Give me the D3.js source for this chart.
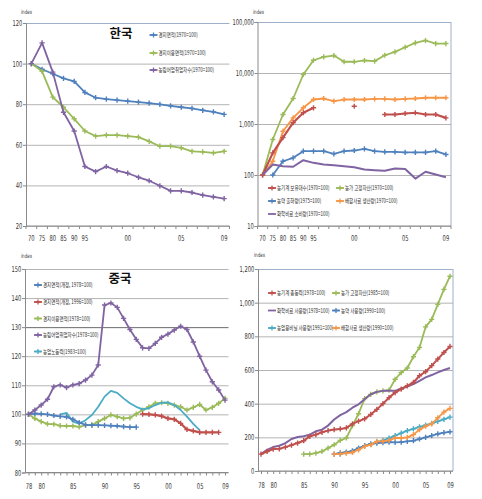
<!DOCTYPE html>
<html><head><meta charset="utf-8">
<script src="https://cdn.jsdelivr.net/npm/d3@7"></script>
<style>
html,body{margin:0;padding:0;background:#fff;}
svg{display:block;}
text{font-family:"Liberation Sans Narrow","DejaVu Sans Condensed","Liberation Sans",sans-serif;fill:#333;}
.kr{font-family:"Noto Sans CJK KR",sans-serif;}
</style></head><body>
<svg id="c" width="482" height="499"></svg>
<script>
// ---------- DATA ----------
// Korea (top panels): categories
const krCats = ["1970","1975","1980","1985","1990","1995","1997","1998","1999","2000","2001","2002","2003","2004","2005","2006","2007","2008","2009"];
const krTickCats = ["1970","1975","1980","1985","1990","1995","2000","2005","2009"];
const krTickText = ["70","75","80","85","90","95","00","05","09"];
// Panel 1
const krArea    = [100,97.2,95.0,92.7,91.2,85.8,83.2,82.5,82.0,81.5,81.0,80.5,79.9,79.2,78.5,77.9,77.0,76.2,75.0];
const krUsed    = [100,96.2,83.5,78.5,72.8,66.8,64.3,64.8,64.8,64.3,63.8,61.7,59.3,59.3,58.5,56.8,56.5,56.0,56.8];
const krWorkers = [100,110.2,95.8,76.0,66.8,49.3,46.8,49.3,47.3,46.0,44.0,42.3,39.8,37.3,37.3,36.5,35.2,34.3,33.5];
const krLegend1 = ["경지면적(1970=100)","경지이용면적(1970=100)","농림어업취업자수(1970=100)"];
const krYTicks1 = [20,40,60,80,100,120];
// Panel 2 (log scale)
const krMachines  = [100,272,540,1060,1660,2080,null,null,null,2230,null,null,1535,1535,1607,1660,1535,1535,1320];
const krAssets    = [100,497,1535,3160,9350,17800,20800,22000,16600,16600,17600,17100,22300,26000,32000,39000,43400,37800,37800];
const krPesticide = [null,100,186,217,293,293,293,260,293,302,326,293,285,285,277,277,277,293,253];
const krFeed      = [100,186,722,1320,2080,3020,3160,2800,3020,3020,3020,3100,3100,3020,3100,3160,3270,3270,3270];
const krFert      = [100,161,149,145,195,173,161,156,149,142,128,124,121,134,131,85,116,102,90];
const krLegend2 = ["농기계 보유대수(1970=100)","농가 고정자산(1970=100)","농약 출하량(1975=100)","배합사료 생산량(1970=100)","화학비료 소비량(1970=100)"];
const krYTicks2 = [10,100,1000,10000,100000];

// China (bottom panels): years
const cnYears = d3.range(1978, 2010);
const cnTickYears = [1978,1980,1985,1990,1995,2000,2005,2009];
// Panel 3
const cnArea78  = [100,100.3,100.2,100,99.6,99.3,99.1,98.3,97.2,96.4,96.3,96.3,96.2,96.1,96.0,95.8,95.6,95.6,
                   null,null,null,null,null,null,null,null,null,null,null,null,null,null];
const cnArea96  = [null,null,null,null,null,null,null,null,null,null,null,null,null,null,null,null,null,null,
                   100.1,100,99.8,99.4,98.6,98.3,96.9,94.8,94.3,93.8,93.8,93.8,93.8,null];
const cnUsed    = [100,98.6,97.5,96.7,96.6,96.1,96.0,96.0,95.7,96.3,96.3,97.5,98.6,99.8,99.2,98.6,98.8,100.1,
                   101.5,102.6,103.8,104.0,103.8,103.2,102.6,101.5,102.4,103.4,101.5,102.4,103.8,105.5];
const cnWorkers = [100,101.5,103.2,105.2,109.5,110.1,109.2,110.1,110.6,111.8,113.5,117,137.6,138.3,136.8,133.0,129.2,125.8,
                   122.9,122.7,124.4,126.5,127.6,129.0,130.3,129.2,124.9,120.0,115.2,111.2,108.4,104.9];
const cnLabor   = [null,null,null,null,null,100,100.5,97.5,96.8,98.0,99.8,102.6,106.1,108.1,107.4,105.5,103.8,102.6,
                   101.7,102.1,103.2,104.0,104.1,103.2,101.5,99.2,96.7,94.6,null,null,null,null];
const cnLegend3 = ["경지면적(개정, 1978=100)","경지면적(개정, 1996=100)","경지이용면적(1978=100)","농림어업취업자수(1978=100)","농업노동력(1983=100)"];
const cnYTicks3 = [80,90,100,110,120,130,140,150];
// Panel 4
const cnMachPower = [100,116,130,132,142,154,166,180,206,216,230,240,246,250,256,280,296,310,336,366,400,436,466,486,506,526,566,590,626,665,704,740];
const cnAssets85  = [null,null,null,null,null,null,null,100,100,106,116,136,156,182,196,270,340,430,455,470,476,480,545,585,612,679,734,856,901,990,1079,1157];
const cnFert      = [100,126,142,150,166,190,202,206,216,236,246,270,306,332,350,376,396,426,456,470,476,476,476,490,502,516,536,556,570,586,600,612];
const cnPest90    = [null,null,null,null,null,null,null,null,null,null,null,null,100,108,112,118,135,150,160,165,168,172,170,172,176,180,190,200,210,220,228,233];
const cnFilm91    = [null,null,null,null,null,null,null,null,null,null,null,null,null,100,110,118,135,150,160,172,182,195,210,225,240,250,262,272,283,295,307,320];
const cnFeed90    = [null,null,null,null,null,null,null,null,null,null,null,null,100,102,106,110,126,146,156,176,176,182,196,196,200,216,246,266,280,316,350,372];
const cnLegend4 = ["농기계 총동력(1978=100)","농가 고정자산(1985=100)","화학비료 사용량(1978=100)","농약 사용량(1990=100)","농업용비닐 사용량(1991=100)","배합사료 생산량(1990=100)"];
const cnYTicks4 = [0,200,400,600,800,1000,1200];

// ---------- STYLE ----------
const C = {blue:"#4F81BD", red:"#C0504D", green:"#9BBB59", purple:"#8064A2", cyan:"#4BACC6", orange:"#F79646"};
const svg = d3.select("#c");
const GRID = "#b4b4b4", FRAME = "#9cb0cc";
const crossPath = "M-2.6,0H2.6M0,-2.6V2.6";

function sq(g, x, y, str, fs, sx, anchor, cls, weight) {
  const t = g.append("text")
    .attr("transform", `translate(${x},${y}) scale(${sx},1)`)
    .attr("text-anchor", anchor || "start")
    .style("font-size", fs + "px")
    .text(str);
  if (cls) t.attr("class", cls);
  if (weight) t.style("font-weight", weight);
  return t;
}

function yAxis(g, y, ticks, x0, x1, fmt, gridColor) {
  // gridlines
  g.append("g").attr("transform", `translate(${x0},0)`)
    .call(d3.axisLeft(y).tickValues(ticks).tickSize(-(x1 - x0)).tickFormat(""))
    .call(a => a.select(".domain").remove())
    .call(a => a.selectAll("line").attr("stroke", d => gridColor(d)).attr("stroke-width", 1));
  // labels and ticks
  g.append("g").attr("transform", `translate(${x0},0)`)
    .call(d3.axisLeft(y).tickValues(ticks).tickSize(3).tickPadding(2).tickFormat(fmt))
    .call(a => a.select(".domain").attr("stroke", "#8a8a8a"))
    .call(a => a.selectAll("line").attr("stroke", "#8a8a8a"))
    .call(a => a.selectAll("text").style("font-size", "8px").attr("transform", "scale(0.72,1)").attr("fill", "#333"));
}

function series(g, x, y, keys, vals, color, marker, width) {
  const pts = keys.map((k, i) => ({k, v: vals[i]}));
  g.append("path").datum(pts)
    .attr("fill", "none").attr("stroke", color).attr("stroke-width", width || 1.8)
    .attr("stroke-linejoin", "round")
    .attr("d", d3.line().defined(d => d.v != null).x(d => x(d.k)).y(d => y(d.v)));
  if (marker) {
    g.selectAll(null).data(pts.filter(d => d.v != null)).enter().append("path")
      .attr("transform", d => `translate(${x(d.k)},${y(d.v)})`)
      .attr("d", crossPath).attr("stroke", color).attr("stroke-width", 1.4).attr("fill", "none");
  }
}

function legendItem(g, mx, my, text, color, marker) {
  g.append("line").attr("x1", mx - 4).attr("x2", mx + 4).attr("y1", my).attr("y2", my)
    .attr("stroke", color).attr("stroke-width", 1.8);
  if (marker) g.append("path").attr("transform", `translate(${mx},${my})`).attr("d", crossPath)
    .attr("stroke", color).attr("stroke-width", 1.3).attr("fill", "none");
  sq(g, mx + 5, my + 2.2, text, 6.2, 0.72, "start", "kr");
}

const comma = d3.format(",");

// ================= PANEL 1: Korea =================
{
  const g = svg.append("g");
  const x0 = 26, x1 = 229.5;
  const x = d3.scaleBand().domain(krCats).range([x0, x1]);
  const xc = k => x(k) + x.bandwidth() / 2;
  const y = d3.scaleLinear().domain([20, 120]).range([226, 23]);
  yAxis(g, y, krYTicks1, x0, x1, d3.format("d"), d => d === 120 ? FRAME : GRID);
  // x axis
  const xa = g.append("g").attr("transform", `translate(0,${y(20)})`);
  xa.append("line").attr("x1", x0).attr("x2", x1).attr("stroke", "#8a8a8a");
  xa.selectAll(null).data(krCats.map(k => x(k)).concat([x1])).enter().append("line")
    .attr("x1", d => d).attr("x2", d => d).attr("y1", 0).attr("y2", 3).attr("stroke", "#8a8a8a");
  xa.selectAll(null).data(krTickCats).enter().append("text")
    .attr("transform", d => `translate(${xc(d)},15) scale(0.72,1)`).attr("text-anchor", "middle")
    .style("font-size", "8px").text((d, i) => krTickText[i]);
  sq(g, 21, 14, "index", 6, 0.75, "start");
  series(g, xc, y, krCats, krArea, C.blue, true);
  series(g, xc, y, krCats, krUsed, C.green, true);
  series(g, xc, y, krCats, krWorkers, C.purple, true);
  sq(g, 121, 38, "한국", 12.5, 1, "middle", "kr", "bold").style("fill", "#111");
  legendItem(g, 153.5, 35, krLegend1[0], C.blue, true);
  legendItem(g, 153.5, 53, krLegend1[1], C.green, true);
  legendItem(g, 153.5, 70, krLegend1[2], C.purple, true);
}

// ================= PANEL 2: Korea inputs (log) =================
{
  const g = svg.append("g");
  const x0 = 257.5, x1 = 451;
  const x = d3.scaleBand().domain(krCats).range([x0, x1]);
  const xc = k => x(k) + x.bandwidth() / 2;
  const y = d3.scaleLog().domain([10, 100000]).range([226, 22]);
  yAxis(g, y, krYTicks2, x0, x1, comma, d => d === 100000 ? FRAME : GRID);
  g.append("line").attr("x1", x1).attr("x2", x1).attr("y1", y(100000)).attr("y2", y(10)).attr("stroke", FRAME);
  const xa = g.append("g").attr("transform", `translate(0,${y(10)})`);
  xa.append("line").attr("x1", x0).attr("x2", x1).attr("stroke", "#8a8a8a");
  xa.selectAll(null).data(krCats.map(k => x(k)).concat([x1])).enter().append("line")
    .attr("x1", d => d).attr("x2", d => d).attr("y1", 0).attr("y2", 3).attr("stroke", "#8a8a8a");
  xa.selectAll(null).data(krTickCats).enter().append("text")
    .attr("transform", d => `translate(${xc(d)},15) scale(0.72,1)`).attr("text-anchor", "middle")
    .style("font-size", "8px").text((d, i) => krTickText[i]);
  sq(g, 253, 14, "index", 6, 0.75, "start");
  series(g, xc, y, krCats, krAssets, C.green, true);
  series(g, xc, y, krCats, krFeed, C.orange, true);
  series(g, xc, y, krCats, krMachines, C.red, true, 2.2);
  series(g, xc, y, krCats, krPesticide, C.blue, true);
  series(g, xc, y, krCats, krFert, C.purple, false, 2);
  legendItem(g, 272, 188, krLegend2[0], C.red, true);
  legendItem(g, 340, 188, krLegend2[1], C.green, true);
  legendItem(g, 272, 201, krLegend2[2], C.blue, true);
  legendItem(g, 340, 201, krLegend2[3], C.orange, true);
  legendItem(g, 272, 214, krLegend2[4], C.purple, false);
}

// ================= PANEL 3: China =================
{
  const g = svg.append("g");
  const x0 = 25, x1 = 228.5;
  const x = d3.scaleLinear().domain([1978, 2009]).range([28.5, 225]);
  const y = d3.scaleLinear().domain([80, 150]).range([472.5, 269]);
  yAxis(g, y, cnYTicks3, x0, x1, d3.format("d"), d => d === 130 ? "#6a6a6a" : GRID);
  g.append("g").attr("transform", `translate(0,${y(80)})`)
    .call(d3.axisBottom(x).tickValues(cnYears).tickSize(3).tickPadding(8)
      .tickFormat(d => cnTickYears.includes(d) ? String(d).slice(2) : ""))
    .call(a => a.select(".domain").attr("d", `M${x0},0H${x1}`).attr("stroke", "#8a8a8a"))
    .call(a => a.selectAll("line").attr("stroke", "#8a8a8a"))
    .call(a => a.selectAll("text").style("font-size", "8px").attr("transform", "scale(0.72,1)").attr("fill", "#333"));
  sq(g, 21, 258, "index", 6, 0.75, "start");
  series(g, x, y, cnYears, cnUsed, C.green, true);
  series(g, x, y, cnYears, cnLabor, C.cyan, false);
  series(g, x, y, cnYears, cnArea78, C.blue, true);
  series(g, x, y, cnYears, cnArea96, C.red, true, 2.2);
  series(g, x, y, cnYears, cnWorkers, C.purple, true);
  sq(g, 120, 283, "중국", 12.5, 1, "middle", "kr", "bold").style("fill", "#111");
  const cols = [C.blue, C.red, C.green, C.purple, C.cyan];
  const rows = [285, 302, 318.5, 335, 351.5];
  cnLegend3.forEach((t, i) => legendItem(g, 38, rows[i], t, cols[i], true));
}

// ================= PANEL 4: China inputs =================
{
  const g = svg.append("g");
  const x0 = 258, x1 = 453;
  const x = d3.scaleLinear().domain([1978, 2009]).range([261, 450]);
  const y = d3.scaleLinear().domain([0, 1200]).range([471, 269]);
  yAxis(g, y, cnYTicks4, x0, x1, comma, d => d === 1200 ? FRAME : GRID);
  g.append("line").attr("x1", x1).attr("x2", x1).attr("y1", y(1200)).attr("y2", y(0)).attr("stroke", FRAME);
  g.append("g").attr("transform", `translate(0,${y(0)})`)
    .call(d3.axisBottom(x).tickValues(cnYears).tickSize(3).tickPadding(8)
      .tickFormat(d => cnTickYears.includes(d) ? String(d).slice(2) : ""))
    .call(a => a.select(".domain").attr("d", `M${x0},0H${x1}`).attr("stroke", "#8a8a8a"))
    .call(a => a.selectAll("line").attr("stroke", "#8a8a8a"))
    .call(a => a.selectAll("text").style("font-size", "8px").attr("transform", "scale(0.72,1)").attr("fill", "#333"));
  sq(g, 254, 257, "index", 6, 0.75, "start");
  series(g, x, y, cnYears, cnAssets85, C.green, true);
  series(g, x, y, cnYears, cnFert, C.purple, false, 2);
  series(g, x, y, cnYears, cnMachPower, C.red, true, 2);
  series(g, x, y, cnYears, cnFilm91, C.cyan, true);
  series(g, x, y, cnYears, cnPest90, C.blue, true);
  series(g, x, y, cnYears, cnFeed90, C.orange, true);
  legendItem(g, 272, 293, cnLegend4[0], C.red, true);
  legendItem(g, 336, 293, cnLegend4[1], C.green, true);
  legendItem(g, 272, 310.5, cnLegend4[2], C.purple, false);
  legendItem(g, 336, 310.5, cnLegend4[3], C.blue, true);
  legendItem(g, 272, 328, cnLegend4[4], C.cyan, true);
  legendItem(g, 336, 328, cnLegend4[5], C.orange, true);
}
</script>
</body></html>
